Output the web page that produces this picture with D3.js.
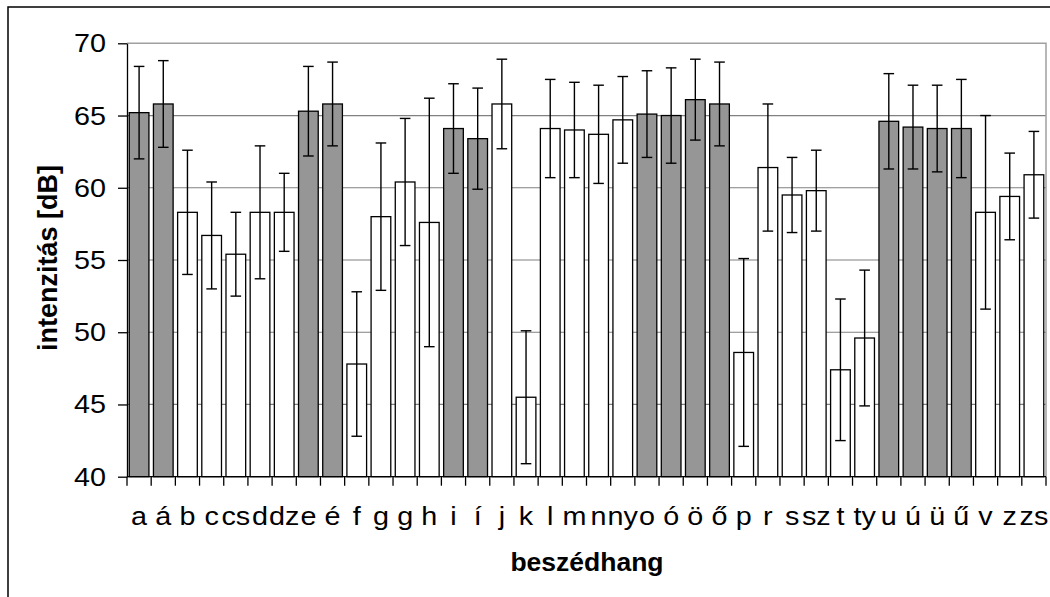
<!DOCTYPE html>
<html>
<head>
<meta charset="utf-8">
<script src="https://cdn.jsdelivr.net/npm/d3@7"></script>
<style>
  body { margin: 0; background: #fff; }
  svg { display: block; }
  text { font-family: "Liberation Sans", Arial, sans-serif; fill: #000; }
</style>
</head>
<body>
<svg id="chart" width="1050" height="597"></svg>
<script>
// Hungarian speech sounds (beszédhang) and their mean intensity in dB
const sounds = ["a","á","b","c","cs","d","dz","e","é","f","g","gy","h","i","í","j","k","l","m","n","ny",
                "o","ó","ö","ő","p","r","s","sz","t","ty","u","ú","ü","ű","v","z","zs"];
// axis labels as printed under each bar (the "gy" label is clipped to "g")
const tickLabels = ["a","á","b","c","cs","d","dz","e","é","f","g","g","h","i","í","j","k","l","m","n","ny",
                    "o","ó","ö","ő","p","r","s","sz","t","ty","u","ú","ü","ű","v","z","zs"];
const meanDb = [65.2, 65.8, 58.3, 56.7, 55.4, 58.3, 58.3, 65.3, 65.8, 47.8, 58.0, 60.4, 57.6, 64.1, 63.4, 65.8,
                45.5, 64.1, 64.0, 63.7, 64.7, 65.1, 65.0, 66.1, 65.8, 48.6, 61.4, 59.5, 59.8, 47.4, 49.6,
                64.6, 64.2, 64.1, 64.1, 58.3, 59.4, 60.9];
const sdDb = [3.2, 3.0, 4.3, 3.7, 2.9, 4.6, 2.7, 3.1, 2.9, 5.0, 5.1, 4.4, 8.6, 3.1, 3.5, 3.1,
              4.6, 3.4, 3.3, 3.4, 3.0, 3.0, 3.3, 2.8, 2.9, 6.5, 4.4, 2.6, 2.8, 4.9, 4.7,
              3.3, 2.9, 3.0, 3.4, 6.7, 3.0, 3.0];
const vowels = ["a","á","e","é","i","í","o","ó","ö","ő","u","ú","ü","ű"];
const yTicks = [40, 45, 50, 55, 60, 65, 70];
const yTitle = "intenzitás [dB]";
const xTitle = "beszédhang";

const svg = d3.select("#chart");
const plot = { left: 127, right: 1046, top: 43.3, bottom: 476.7 };
const labelSize = 25, labelStretch = 1.15;

// outer chart frame
svg.append("rect")
  .attr("x", 8).attr("y", 7).attr("width", 1100).attr("height", 700)
  .attr("fill", "none").attr("stroke", "#000").attr("stroke-width", 1.5);

const x = d3.scaleBand()
  .domain(d3.range(sounds.length))
  .range([plot.left, plot.right])
  .paddingInner(0.186)
  .paddingOuter(0.093);

const y = d3.scaleLinear().domain([40, 70]).range([plot.bottom, plot.top]);

// horizontal gridlines
svg.append("g").selectAll("line")
  .data(yTicks.filter(t => t > 40 && t < 70))
  .join("line")
  .attr("x1", plot.left).attr("x2", plot.right)
  .attr("y1", d => y(d)).attr("y2", d => y(d))
  .attr("stroke", "#808080").attr("stroke-width", 1.2);

// plot area frame (top and right)
svg.append("path")
  .attr("d", `M${plot.left},${y(70)}H${plot.right}V${plot.bottom}`)
  .attr("fill", "none").attr("stroke", "#a0a0a0").attr("stroke-width", 1.5);

// bars
svg.append("g").selectAll("rect")
  .data(meanDb)
  .join("rect")
  .attr("x", (d, i) => x(i))
  .attr("width", x.bandwidth())
  .attr("y", d => y(d))
  .attr("height", d => y(40) - y(d))
  .attr("fill", (d, i) => vowels.includes(sounds[i]) ? "#969696" : "#fff")
  .attr("stroke", "#000").attr("stroke-width", 1.3);

// error bars (± standard deviation)
const capHalf = 5.3;
const err = svg.append("g").attr("stroke", "#000").attr("stroke-width", 1.4);
meanDb.forEach((m, i) => {
  const cx = x(i) + x.bandwidth() / 2;
  const hi = y(m + sdDb[i]), lo = y(Math.max(40, m - sdDb[i]));
  err.append("line").attr("x1", cx).attr("x2", cx).attr("y1", hi).attr("y2", lo);
  err.append("line").attr("x1", cx - capHalf).attr("x2", cx + capHalf).attr("y1", hi).attr("y2", hi);
  err.append("line").attr("x1", cx - capHalf).attr("x2", cx + capHalf).attr("y1", lo).attr("y2", lo);
});

// y axis: line and tick marks from d3, labels drawn separately
const yAxis = svg.append("g")
  .attr("transform", `translate(${plot.left},0)`)
  .call(d3.axisLeft(y).tickValues(yTicks).tickSize(9).tickFormat("").tickSizeOuter(0));
yAxis.select(".domain").attr("stroke", "#000").attr("stroke-width", 1.3);
yAxis.selectAll(".tick line").attr("stroke", "#000").attr("stroke-width", 1.3);

svg.append("g").selectAll("text")
  .data(yTicks)
  .join("text")
  .attr("transform", d => `translate(106,${y(d)}) scale(${labelStretch},1)`)
  .attr("dy", "0.36em")
  .attr("text-anchor", "end")
  .attr("font-size", labelSize)
  .text(d => d);

// x axis: ticks sit between categories
const xAxisG = svg.append("g").attr("transform", `translate(0,${plot.bottom})`);
xAxisG.append("line").attr("x1", plot.left).attr("x2", plot.right)
  .attr("stroke", "#000").attr("stroke-width", 1.3);
const step = x.step();
xAxisG.selectAll(".tickmark")
  .data(d3.range(sounds.length + 1))
  .join("line")
  .attr("x1", i => plot.left + i * step).attr("x2", i => plot.left + i * step)
  .attr("y1", 0).attr("y2", 9)
  .attr("stroke", "#000").attr("stroke-width", 1.3);
xAxisG.selectAll(".lbl")
  .data(tickLabels)
  .join("text")
  .attr("transform", (d, i) => `translate(${x(i) + x.bandwidth() / 2},48) scale(${labelStretch},1)`)
  .attr("text-anchor", "middle")
  .attr("font-size", labelSize)
  .text(d => d);

// axis titles
svg.append("text")
  .attr("x", (plot.left + plot.right) / 2 + 0.5)
  .attr("y", 571)
  .attr("text-anchor", "middle")
  .attr("font-size", 26.5).attr("font-weight", "bold")
  .text(xTitle);

svg.append("text")
  .attr("transform", `translate(57,${(plot.top + plot.bottom) / 2 - 2}) rotate(-90)`)
  .attr("text-anchor", "middle")
  .attr("font-size", 27).attr("font-weight", "bold")
  .text(yTitle);
</script>
</body>
</html>
